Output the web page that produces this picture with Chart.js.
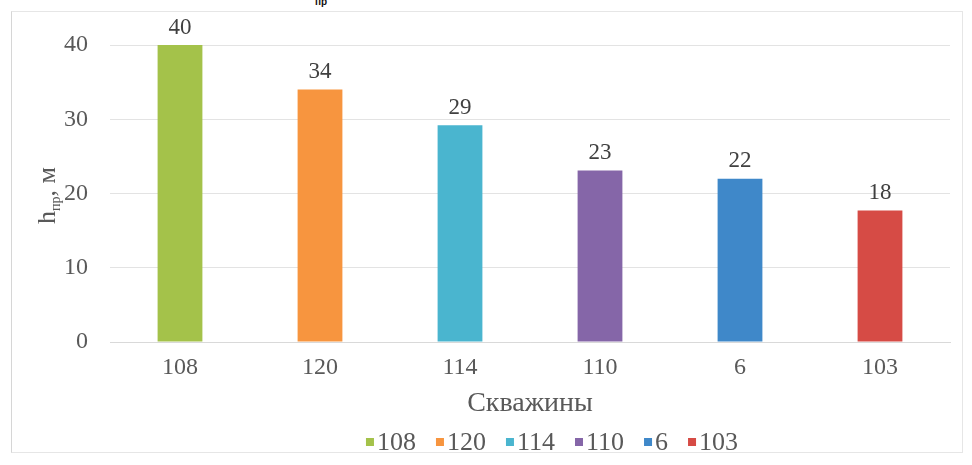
<!DOCTYPE html>
<html>
<head>
<meta charset="utf-8">
<script src="https://cdn.jsdelivr.net/npm/chart.js@4.4.1/dist/chart.umd.min.js"></script>
<style>
  html, body { margin: 0; padding: 0; background: #fff; }
  #wrap { position: relative; width: 972px; height: 465px; overflow: hidden; }
  #frame { position: absolute; left: 11px; top: 11px; width: 950px; height: 440px;
           border: 1px solid #e6e6e6; border-left-color: #d6d6d6; }
  #cut { position: absolute; left: 315px; top: -4px; font: bold 10px "Liberation Sans", sans-serif; color: #111; }
  canvas { position: absolute; left: 0; top: 0; }
</style>
</head>
<body>
<div id="wrap">
  <div id="frame"></div>
  <div id="cut">пр</div>
  <canvas id="myChart" width="972" height="465"></canvas>
</div>
<script>
var wells = ["108", "120", "114", "110", "6", "103"];
var depths = [40, 34, 29.2, 23.1, 22, 17.7];
var barColors = ["#a4c24a", "#f7953f", "#4ab5cf", "#8566a8", "#3f88c9", "#d64b45"];
var yTicks = [0, 10, 20, 30, 40];

var textGray = "#595959";
var serif = "'Liberation Serif', 'Times New Roman', serif";

// value labels above bars
var barLabels = {
  id: "barLabels",
  afterDatasetsDraw: function (chart) {
    var ctx = chart.ctx;
    var meta = chart.getDatasetMeta(0);
    ctx.save();
    ctx.fillStyle = "#404040";
    ctx.font = "23px " + serif;
    ctx.textAlign = "center";
    ctx.textBaseline = "bottom";
    meta.data.forEach(function (bar, i) {
      ctx.fillText(Math.round(depths[i]), bar.x, bar.y - 6);
    });
    ctx.restore();
  }
};

// y title with subscript: h_пр, м
var yTitle = {
  id: "yTitle",
  afterDraw: function (chart) {
    var ctx = chart.ctx;
    var area = chart.chartArea;
    ctx.save();
    ctx.translate(47, (area.top + area.bottom) / 2 + 2);
    ctx.rotate(-Math.PI / 2);
    ctx.fillStyle = textGray;
    ctx.textBaseline = "alphabetic";
    ctx.font = "26px " + serif;
    var w1 = ctx.measureText("h").width;
    ctx.font = "14px " + serif;
    var w2 = ctx.measureText("пр").width;
    ctx.font = "26px " + serif;
    var w3 = ctx.measureText(", м").width;
    var x = -(w1 + w2 + w3) / 2;
    ctx.textAlign = "left";
    ctx.fillText("h", x, 8);
    ctx.font = "14px " + serif;
    ctx.fillText("пр", x + w1, 13);
    ctx.font = "26px " + serif;
    ctx.fillText(", м", x + w1 + w2, 8);
    ctx.restore();
  }
};

// legend drawn by hand: small squares, tight gap to text, shifted right like the source
var wellLegend = {
  id: "wellLegend",
  afterDraw: function (chart) {
    var ctx = chart.ctx;
    var box = 8, gap = 3, between = 20;
    ctx.save();
    ctx.font = "26px " + serif;
    ctx.textBaseline = "middle";
    ctx.textAlign = "left";
    var total = 0;
    wells.forEach(function (w, i) {
      total += box + gap + ctx.measureText(w).width + (i < wells.length - 1 ? between : 0);
    });
    var x = 552 - total / 2;
    var y = 443;
    wells.forEach(function (w, i) {
      ctx.fillStyle = barColors[i];
      ctx.fillRect(x, y - box / 2 - 1, box, box);
      x += box + gap;
      ctx.fillStyle = textGray;
      ctx.fillText(w, x, y);
      x += ctx.measureText(w).width + between;
    });
    ctx.restore();
  }
};

var ctx2 = document.getElementById("myChart");

var myChart = new Chart(ctx2, {
  type: "bar",
  data: {
    labels: wells,
    datasets: [
      {
        label: "h",
        data: depths,
        backgroundColor: barColors,
        borderWidth: 0,
        categoryPercentage: 1,
        barPercentage: 0.32,
      },
    ],
  },
  options: {
    responsive: false,
    animation: false,
    layout: { padding: { left: 30, right: 22, top: 45, bottom: 45 } },
    plugins: {
      tooltip: { enabled: false },
      legend: { display: false },
    },
    scales: {
      x: {
        grid: { display: false, drawTicks: false },
        border: { color: "#d9d9d9" },
        ticks: { color: textGray, font: { family: serif, size: 24 }, padding: 11 },
        title: {
          display: true,
          text: "Скважины",
          color: textGray,
          font: { family: serif, size: 28 },
          padding: { top: 0, bottom: 0 },
        },
        afterFit: function (s) { s.height = 78; },
      },
      y: {
        min: 0,
        max: 40,
        afterBuildTicks: function (s) { s.ticks = yTicks.map(function (v) { return { value: v }; }); },
        grid: { color: "#e3e3e3", drawTicks: false },
        border: { display: false },
        ticks: { color: textGray, font: { family: serif, size: 24 }, padding: 22 },
        afterFit: function (s) { s.width = 80; },
      },
    },
  },
  plugins: [barLabels, yTitle, wellLegend],
});
</script>
</body>
</html>
